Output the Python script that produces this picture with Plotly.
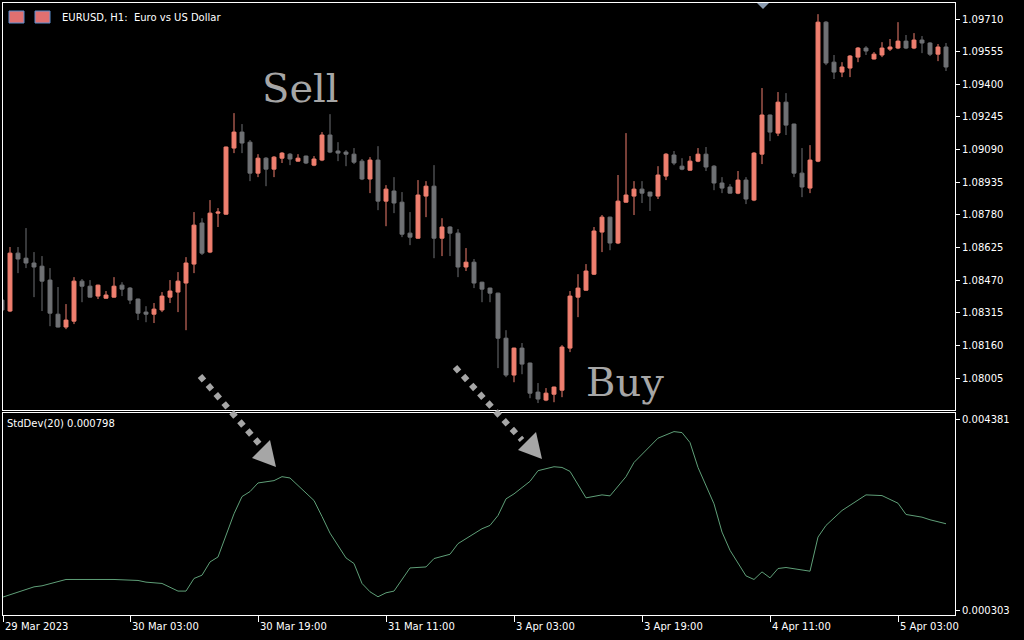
import plotly.graph_objects as go

opens = [108375,108323,108598,108574,108551,108536,108470,108308,108247,108275,108465,108441,108394,108384,108389,108446,108432,108380,108318,108308,108328,108389,108413,108456,108546,108741,108603,108788,108783,109097,109173,109125,108978,109049,108997,109049,109068,109035,109059,109016,109040,109159,109083,109078,109068,109035,108950,109040,108845,108893,108840,108693,108669,108869,108916,108669,108722,108693,108532,108555,108460,108432,108408,108194,108019,108147,108076,107938,107900,107928,107947,108147,108389,108422,108498,108698,108769,108646,108840,108869,108902,108888,108869,108964,109064,109011,108992,109035,109068,109011,108931,108912,108883,108945,108850,109068,109254,109168,109315,109211,108978,108907,109035,109695,109505,109458,109477,109529,109572,109520,109539,109567,109572,109605,109572,109610,109596,109543,109577]
highs = [108384,108627,108627,108717,108603,108584,108527,108437,108356,108484,108475,108470,108448,108418,108484,108460,108437,108382,108346,108361,108413,108470,108508,108579,108793,108764,108850,108812,109104,109263,109211,109135,109068,109054,109059,109078,109073,109068,109061,109059,109173,109258,109125,109087,109097,109045,109054,109106,108921,108959,108888,108793,108945,108940,109016,108764,108726,108712,108622,108570,108462,108434,108410,108232,108149,108171,108078,107981,107957,107964,108161,108418,108498,108546,108722,108779,108771,108969,109168,108940,108940,108890,109011,109073,109083,109049,109059,109097,109102,109016,108959,108926,108988,108959,109078,109382,109256,109363,109358,109213,109097,109111,109733,109700,109539,109505,109539,109577,109581,109553,109600,109615,109695,109634,109643,109629,109600,109591,109596]
lows = [108318,108318,108503,108527,108389,108323,108251,108245,108237,108261,108365,108387,108380,108382,108387,108394,108356,108280,108270,108266,108318,108361,108318,108232,108503,108589,108598,108722,108781,109073,109073,108940,108959,108916,108959,109026,109016,109033,109021,109011,109035,109073,109035,109011,109021,108945,108883,108802,108726,108788,108674,108636,108667,108769,108574,108584,108584,108484,108513,108432,108365,108365,108052,108009,107985,108023,107909,107886,107895,107890,107914,108128,108294,108420,108494,108603,108612,108641,108838,108779,108836,108798,108855,108945,109016,108992,108990,109030,108988,108897,108883,108881,108878,108831,108845,109021,109130,109154,109159,108959,108864,108883,109030,109491,109425,109434,109434,109505,109539,109518,109529,109558,109567,109567,109567,109548,109534,109510,109463]
closes = [108328,108598,108570,108551,108532,108465,108313,108247,108280,108465,108441,108389,108446,108399,108441,108427,108375,108313,108308,108332,108394,108418,108465,108551,108731,108598,108788,108793,109102,109173,109121,108978,109049,108997,109054,109073,109045,109049,109026,109045,109159,109078,109073,109068,109030,108950,109040,108845,108902,108836,108688,108674,108874,108916,108669,108722,108693,108532,108555,108456,108427,108408,108194,108019,108147,108071,107933,107905,107933,107962,108152,108394,108432,108513,108703,108769,108646,108845,108874,108902,108883,108869,108969,109068,109026,108997,109035,109068,109007,108931,108907,108883,108945,108855,109073,109254,109173,109315,109206,108978,108912,109040,109695,109501,109458,109482,109534,109572,109558,109543,109572,109577,109605,109572,109610,109596,109543,109577,109482]

std_idx = [0,2,4,5,8,14,16,17,18,20,22,23,24,25,26,27,29,30,31,32,34,35,36,37,39,40,41,43,44,45,46,47,48,49,51,53,54,56,57,58,60,61,62,63,64,66,67,69,70,71,73,75,76,78,79,82,84,85,86,87,89,90,91,93,94,95,96,97,98,101,102,103,105,108,110,112,113,115,116,118]
std_val = [0.000574,0.000694,0.000800,0.000822,0.000958,0.000958,0.000937,0.000937,0.000901,0.000873,0.000709,0.000709,0.000980,0.001050,0.001334,0.001441,0.002368,0.002737,0.002844,0.003029,0.003079,0.003164,0.003136,0.002972,0.002652,0.002310,0.001953,0.001420,0.001300,0.000873,0.000694,0.000587,0.000672,0.000709,0.001206,0.001227,0.001407,0.001499,0.001727,0.001834,0.002047,0.002118,0.002331,0.002688,0.002795,0.003064,0.003292,0.003377,0.003362,0.003277,0.002709,0.002773,0.002752,0.003164,0.003469,0.003990,0.004131,0.004110,0.003896,0.003362,0.002581,0.001975,0.001584,0.001035,0.000958,0.001121,0.000993,0.001193,0.001215,0.001136,0.001868,0.002118,0.002438,0.002773,0.002758,0.002594,0.002353,0.002295,0.002239,0.002154]

price_ticks = [1.08005,1.08160,1.08315,1.08470,1.08625,1.08780,1.08935,1.09090,1.09245,1.09400,1.09555,1.09710]
time_idx = [0.125,16,32,48,64,80,96,112]
time_labels = ["29 Mar 2023","30 Mar 03:00","30 Mar 19:00","31 Mar 11:00","3 Apr 03:00","3 Apr 19:00","4 Apr 11:00","5 Apr 03:00"]

UP = "#ef7f6f"
DN = "#6f7174"
n = len(opens)
x = list(range(n))
fig = go.Figure()
fig.add_trace(go.Candlestick(
    x=x, open=[v/1e5 for v in opens], high=[v/1e5 for v in highs],
    low=[v/1e5 for v in lows], close=[v/1e5 for v in closes],
    increasing=dict(line=dict(color=UP, width=1), fillcolor=UP),
    decreasing=dict(line=dict(color=DN, width=1), fillcolor=DN),
    whiskerwidth=0, xaxis="x", yaxis="y", hoverinfo="skip"))
fig.add_trace(go.Scatter(x=std_idx, y=std_val, mode="lines",
    line=dict(color="#5f9f78", width=1), xaxis="x2", yaxis="y2", hoverinfo="skip"))

xr = [0.125, 119.125]
axfont = dict(family="DejaVu Sans", size=10, color="white")
main_bot = (615-410)/612
ind_top = (615-413)/612
fig.update_layout(
    width=1024, height=640, margin=dict(l=3, r=69, t=3, b=25),
    paper_bgcolor="black", plot_bgcolor="black", showlegend=False,
    xaxis=dict(domain=[0,1], range=xr, showticklabels=False, showgrid=False, zeroline=False,
               rangeslider=dict(visible=False), showline=True, linecolor="white", mirror=True, ticks=""),
    yaxis=dict(domain=[main_bot,1], range=[1.07853,1.09786], side="right", tickvals=price_ticks,
               ticktext=[f"{v:.5f}" for v in price_ticks], tickfont=axfont, ticks="outside", ticklen=4,
               tickcolor="white", showgrid=False, zeroline=False, showline=True, linecolor="white", mirror=True),
    xaxis2=dict(domain=[0,1], range=xr, anchor="y2", tickvals=time_idx, showticklabels=False,
                ticks="outside", ticklen=6, tickcolor="white", showgrid=False, zeroline=False,
                showline=True, linecolor="white", mirror=True),
    yaxis2=dict(domain=[0,ind_top], range=[0.000196,0.004530], side="right", anchor="x2",
                tickvals=[0.000303,0.004381], ticktext=["0.000303","0.004381"], tickfont=axfont,
                ticks="outside", ticklen=4, tickcolor="white", showgrid=False, zeroline=False,
                showline=True, linecolor="white", mirror=True),
)

def P(px, py):
    return (px-3)/952, 1-(py-3)/612

for i, lab in zip(time_idx, time_labels):
    fig.add_annotation(x=i, y=0, xref="x2", yref="paper", yshift=-4, text=lab, showarrow=False,
                       xanchor="left", yanchor="top", font=axfont)
a, b = P(60, 17)
fig.add_annotation(x=a, y=b, xref="paper", yref="paper", text="EURUSD, H1:  Euro vs US Dollar",
                   showarrow=False, xanchor="left", yanchor="middle", font=axfont)
a, b = P(5, 423)
fig.add_annotation(x=a, y=b, xref="paper", yref="paper", text="StdDev(20) 0.000798",
                   showarrow=False, xanchor="left", yanchor="middle", font=axfont)
for t, px, py in [("Sell", 300, 88), ("Buy", 625, 382)]:
    a, b = P(px, py)
    fig.add_annotation(x=a, y=b, xref="paper", yref="paper", text=t, showarrow=False,
                       xanchor="center", yanchor="middle",
                       font=dict(family="DejaVu Serif", size=40, color="#a6a6a6"))

for (x0, y0, x1, y1, tip) in [(200,376,262,447,(276,467)), (455,367,522,440,(542,459))]:
    a, b = P(x0, y0); c, d = P(x1, y1)
    fig.add_shape(type="line", xref="paper", yref="paper", x0=a, y0=b, x1=c, y1=d,
                  line=dict(color="#a6a6a6", width=6, dash="dot"))
    tx, ty = tip
    pts = [P(tx, ty), P(tx-24, ty-9), P(tx-6, ty-27)]
    path = "M " + " L ".join(f"{u},{v}" for u, v in pts) + " Z"
    fig.add_shape(type="path", xref="paper", yref="paper", path=path,
                  fillcolor="#a6a6a6", line=dict(color="#a6a6a6", width=0))
pts = [P(757,3), P(769,3), P(763,9)]
fig.add_shape(type="path", xref="paper", yref="paper",
              path="M " + " L ".join(f"{u},{v}" for u, v in pts) + " Z",
              fillcolor="#8a9bb0", line=dict(width=0))
for x0 in [9, 35]:
    a, b = P(x0, 11); c, d = P(x0+15, 23)
    fig.add_shape(type="rect", xref="paper", yref="paper", x0=a, y0=b, x1=c, y1=d,
                  fillcolor="#e07070", line=dict(color="#5a8fd0", width=1))
fig.write_html("out.html", config={"displayModeBar": False},
               post_script="document.body.style.margin='0';")
